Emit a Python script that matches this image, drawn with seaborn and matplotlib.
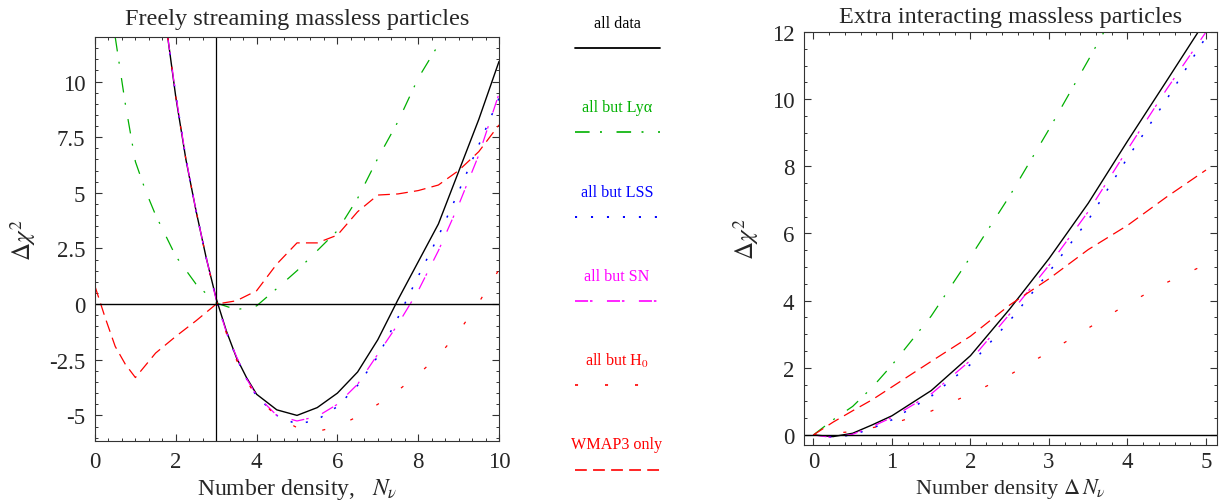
import numpy as np
import matplotlib
matplotlib.use("Agg")
import matplotlib.pyplot as plt
import seaborn as sns
from matplotlib.ticker import MultipleLocator, FuncFormatter

sns.set_style("ticks")
plt.rcParams['font.family'] = ['Liberation Serif', 'DejaVu Serif']
plt.rcParams['mathtext.fontset'] = 'stix'
plt.rcParams['lines.scale_dashes'] = False

# ---- left panel: freely streaming, N_nu ----
nu_grid = [1.8, 2.0, 2.25, 2.5, 2.75, 3.0, 3.25, 3.5, 3.75, 4.0, 4.5, 5.0, 5.5,
           6.0, 6.5, 7.0, 7.5, 8.0, 8.5, 9.0, 9.5, 10.0]
free_all = [12.0, 9.3, 6.5, 4.2, 2.1, 0.25, -1.2, -2.4, -3.3, -4.05, -4.75, -5.0, -4.65,
            -4.0, -3.05, -1.6, 0.2, 1.9, 3.6, 5.95, 8.3, 10.9]
free_no_lss = [12.0, 9.4, 6.55, 4.2, 2.1, 0.2, -1.25, -2.4, -3.35, -4.15, -5.0, -5.4, -5.2,
               -4.6, -3.65, -2.35, -0.6, 1.25, 3.05, 5.05, 7.15, 9.25]
free_no_sn = [12.0, 9.4, 6.55, 4.2, 2.1, 0.2, -1.25, -2.35, -3.35, -4.1, -5.0, -5.25, -5.05,
              -4.5, -3.6, -2.25, -0.9, 0.6, 2.4, 4.45, 6.7, 9.45]
free_no_h0 = [12.0, 9.3, 6.5, 4.2, 2.1, 0.2, -1.3, -2.5, -3.45, -4.15, -5.05, -5.55, -5.72,
              -5.5, -5.05, -4.5, -3.88, -3.16, -2.33, -1.25, 0.07, 1.55]

nu_lya = [0.5, 0.75, 1.0, 1.25, 1.5, 2.0, 2.5, 3.0, 3.5, 4.0, 4.5, 5.0, 5.5, 6.0, 6.5,
          7.0, 7.5, 8.0, 8.5, 8.66]
free_no_lya = [12.0, 9.0, 6.4, 5.1, 4.0, 2.15, 0.9, 0.05, -0.25, -0.08, 0.7, 1.5, 2.4, 3.3,
               4.75, 6.55, 8.2, 10.15, 11.65, 12.0]

nu_wmap = [0.0, 0.25, 0.5, 0.75, 1.0, 1.5, 2.0, 2.5, 3.0, 3.5, 4.0, 4.25, 4.5, 5.0, 5.5,
           6.0, 6.5, 7.0, 7.5, 8.0, 8.5, 9.0, 9.5, 10.0]
free_wmap = [0.8, -0.6, -1.9, -2.7, -3.3, -2.2, -1.45, -0.75, 0.0, 0.15, 0.6, 1.2, 1.8,
             2.75, 2.75, 3.1, 4.15, 4.9, 4.95, 5.1, 5.35, 6.0, 6.85, 8.05]

# ---- right panel: extra interacting, Delta N_nu ----
dn_all = [0.0, 0.25, 0.5, 0.75, 1.0, 1.5, 2.0, 2.5, 3.0, 3.5, 4.0, 4.5, 4.9]
int_all = [0.0, -0.05, 0.05, 0.3, 0.57, 1.32, 2.36, 3.75, 5.25, 6.9, 8.75, 10.55, 12.0]
dn_grid = [0.0, 0.25, 0.5, 0.75, 1.0, 1.5, 2.0, 2.5, 3.0, 3.5, 4.0, 4.5, 5.0]
int_no_lss = [0.0, -0.07, 0.0, 0.2, 0.45, 1.15, 2.1, 3.4, 4.85, 6.4, 8.25, 10.0, 11.85]
int_no_sn = [0.0, -0.08, 0.02, 0.25, 0.52, 1.22, 2.22, 3.6, 5.05, 6.65, 8.5, 10.3, 12.0]
int_wmap = [0.0, 0.38, 0.72, 1.05, 1.43, 2.19, 2.94, 3.87, 4.65, 5.52, 6.24, 7.09, 7.89]
dn_h0 = [0.0, 0.5, 1.0, 1.5, 2.0, 2.5, 3.0, 3.5, 4.0, 4.5, 5.0]
int_no_h0 = [0.0, 0.1, 0.33, 0.71, 1.22, 1.79, 2.47, 3.18, 3.9, 4.54, 5.08]
dn_lya = [0.0, 0.25, 0.5, 0.75, 1.0, 1.5, 2.0, 2.5, 3.0, 3.5, 3.7]
int_no_lya = [0.0, 0.45, 0.85, 1.42, 2.08, 3.54, 5.3, 7.12, 9.1, 11.16, 12.0]

labels = ["all data", "all but Ly\u03b1", "all but LSS", "all but SN", "all but H$_0$", "WMAP3 only"]
colors = ["black", "#00b000", "#0000ff", "#ff00ff", "#ff0000", "#ff0000"]
styles = ["-", (0, (10.5, 7.5, 1.4, 10.5)), (0, (1.5, 10.0)), (0, (9.4, 1.4, 1.8, 10.4)),
          (0, (2.2, 19.4)), (0, (8.5, 4.5))]
widths = [1.0, 0.9, 1.1, 0.9, 0.9, 0.9]

fig = plt.figure(figsize=(12.26, 5.02), dpi=100)
axL = fig.add_axes([95 / 1226, 60 / 502, 404 / 1226, 404 / 502])
axR = fig.add_axes([804 / 1226, 56 / 502, 413 / 1226, 413 / 502])
axG = fig.add_axes([540 / 1226, 0, 160 / 1226, 1])

left_series = [(nu_grid, free_all), (nu_lya, free_no_lya), (nu_grid, free_no_lss),
               (nu_grid, free_no_sn), (nu_grid, free_no_h0), (nu_wmap, free_wmap)]
right_series = [(dn_all, int_all), (dn_lya, int_no_lya), (dn_grid, int_no_lss),
                (dn_grid, int_no_sn), (dn_h0, int_no_h0), (dn_grid, int_wmap)]

for ax, series in [(axL, left_series), (axR, right_series)]:
    for (xs, ys), c, ls, lw in zip(series, colors, styles, widths):
        sns.lineplot(x=xs, y=ys, ax=ax, color=c, linestyle=ls, linewidth=lw,
                     sort=False, errorbar=None, legend=False)

fmt = FuncFormatter(lambda v, p: "%g" % v)

axL.axhline(0, color="black", lw=1.0)
axL.axvline(3, color="black", lw=0.9)
axL.set_xlim(0, 10)
axL.set_ylim(-6.15, 12)
axL.xaxis.set_major_locator(MultipleLocator(2))
axL.xaxis.set_minor_locator(MultipleLocator(1 / 3))
axL.yaxis.set_major_locator(MultipleLocator(2.5))
axL.yaxis.set_minor_locator(MultipleLocator(0.5))
axL.set_title("Freely streaming massless particles", fontsize=17.5, pad=9)
axL.set_xlabel("Number density,   $N_\\nu$", fontsize=17, labelpad=3)
axL.set_ylabel("$\\Delta\\chi^2$", fontsize=18, labelpad=8)

axR.axhline(0, color="black", lw=1.0)
axR.set_xlim(-0.12, 5.14)
axR.set_ylim(-0.3, 12)
axR.xaxis.set_major_locator(MultipleLocator(1))
axR.xaxis.set_minor_locator(MultipleLocator(0.2))
axR.yaxis.set_major_locator(MultipleLocator(2))
axR.yaxis.set_minor_locator(MultipleLocator(0.5))
axR.set_title("Extra interacting massless particles", fontsize=17.5, pad=7)
axR.set_xlabel("Number density $\\Delta\\, N_\\nu$", fontsize=16)
axR.xaxis.set_label_coords(0.5, -0.074)
axR.set_ylabel("$\\Delta\\chi^2$", fontsize=18, labelpad=8)

for ax in (axL, axR):
    ax.xaxis.set_major_formatter(fmt)
    ax.yaxis.set_major_formatter(fmt)
    ax.tick_params(which="both", direction="in", top=True, right=True,
                   labelsize=16.5, color="#333333", pad=7)
    ax.tick_params(which="major", length=5, width=0.8)
    ax.tick_params(which="minor", length=2.5, width=0.7)
    for s in ax.spines.values():
        s.set_linewidth(0.8)
        s.set_color("#333333")
axR.tick_params(axis="x", which="both", pad=4)

# middle legend: label above a short sample line
axG.set_axis_off()
axG.set_xlim(540, 700)
axG.set_ylim(502, 0)
for i, (lab, c, ls, lw) in enumerate(zip(labels, colors, styles, widths)):
    ty = 24 + 84.3 * i
    axG.text(617, ty, lab, color=c, ha="center", va="center", fontsize=11.6)
    axG.plot([575, 660], [ty + 25, ty + 25], color=c, linestyle=ls, linewidth=lw + 0.3)

fig.savefig("out.png", dpi=100)
